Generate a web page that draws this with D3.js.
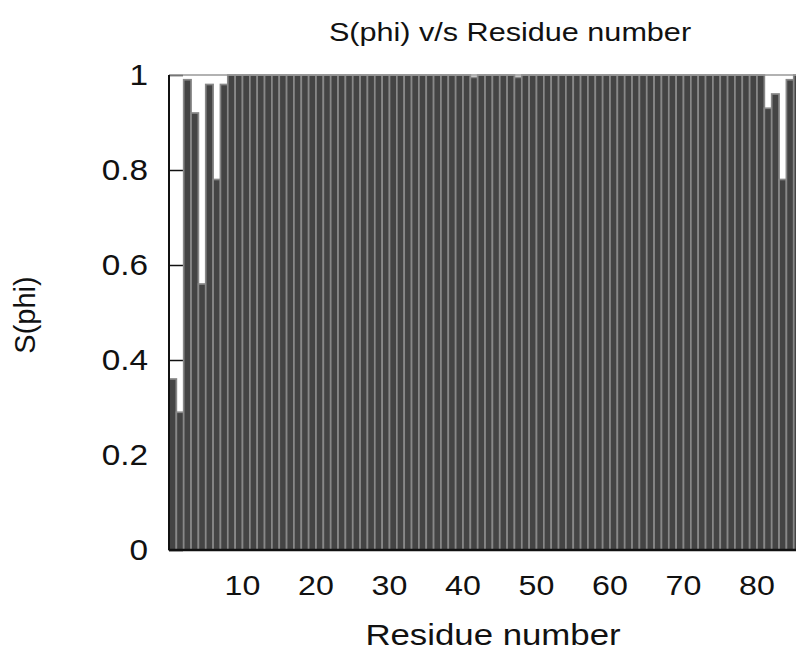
<!DOCTYPE html>
<html>
<head>
<meta charset="utf-8">
<script src="https://cdn.jsdelivr.net/npm/d3@7"></script>
<style>
  body { margin: 0; background: #fff; }
  text { font-family: "Liberation Sans", Arial, sans-serif; fill: #111; }
</style>
</head>
<body>
<svg id="canvas" width="796" height="657"></svg>
<script>
// residue numbers 1..86 and order parameter S(phi)
let residues = d3.range(1, 87)
let sphi = [
  0.36, 0.29, 0.99, 0.92, 0.56, 0.98, 0.78, 0.98, 1.00, 1.00,
  1.00, 1.00, 1.00, 1.00, 1.00, 1.00, 1.00, 1.00, 1.00, 1.00,
  1.00, 1.00, 1.00, 1.00, 1.00, 1.00, 1.00, 1.00, 1.00, 1.00,
  1.00, 1.00, 1.00, 1.00, 1.00, 1.00, 1.00, 1.00, 1.00, 1.00,
  1.00, 0.995, 1.00, 1.00, 1.00, 1.00, 1.00, 0.995, 1.00, 1.00,
  1.00, 1.00, 1.00, 1.00, 1.00, 1.00, 1.00, 1.00, 1.00, 1.00,
  1.00, 1.00, 1.00, 1.00, 1.00, 1.00, 1.00, 1.00, 1.00, 1.00,
  1.00, 1.00, 1.00, 1.00, 1.00, 1.00, 1.00, 1.00, 1.00, 1.00,
  1.00, 0.93, 0.96, 0.78, 0.99, 1.00
]
let xTicks = [10, 20, 30, 40, 50, 60, 70, 80]
let yTicks = [0, 0.2, 0.4, 0.6, 0.8, 1]

let svg = d3.select('#canvas')

let plotLeft = 169, plotTop = 75, plotBottom = 550
let xScale = d3.scaleLinear().domain([0, 86]).range([plotLeft, plotLeft + 86 * 7.35])
let yScale = d3.scaleLinear().domain([0, 1]).range([plotBottom, plotTop])

// the source picture is a bit stretched sideways, so text gets scaled too
let stretch = 1.15

// y ticks sit under the bars (only visible in the gaps)
svg.append('g')
   .attr('transform', `translate(${plotLeft},0)`)
   .call(d3.axisRight(yScale).tickValues(yTicks).tickSize(14).tickFormat(''))
   .call(g => g.select('.domain').remove())
   .call(g => g.selectAll('line').attr('stroke', '#111').attr('stroke-width', 1.5))

// bars, each one residue wide, from i-1 to i
svg.selectAll('rect.bar')
   .data(residues)
   .enter()
   .append('rect')
   .attr('class', 'bar')
   .attr('x', (d) => xScale(d - 1))
   .attr('width', (d) => xScale(d) - xScale(d - 1))
   .attr('y', (d, i) => yScale(sphi[i]))
   .attr('height', (d, i) => plotBottom - yScale(sphi[i]))
   .attr('fill', '#444')
   .attr('stroke', '#888')
   .attr('stroke-width', 1.7)

// frame
svg.append('line')
   .attr('x1', plotLeft).attr('x2', 796).attr('y1', plotTop).attr('y2', plotTop)
   .attr('stroke', '#999').attr('stroke-width', 1.5)
svg.append('line')
   .attr('x1', plotLeft).attr('x2', plotLeft).attr('y1', plotTop).attr('y2', plotBottom)
   .attr('stroke', '#111').attr('stroke-width', 2)
svg.append('line')
   .attr('x1', plotLeft).attr('x2', 796).attr('y1', plotBottom).attr('y2', plotBottom)
   .attr('stroke', '#111').attr('stroke-width', 2.5)

// tick labels
svg.selectAll('text.ylab')
   .data(yTicks)
   .enter()
   .append('text')
   .attr('class', 'ylab')
   .attr('transform', (d) => `translate(148,${yScale(d)}) scale(${stretch},1)`)
   .attr('dy', '0.36em')
   .attr('text-anchor', 'end')
   .attr('font-size', 29)
   .text((d) => d3.format('~g')(d))

svg.selectAll('text.xlab')
   .data(xTicks)
   .enter()
   .append('text')
   .attr('class', 'xlab')
   .attr('transform', (d) => `translate(${xScale(d)},595) scale(${stretch},1)`)
   .attr('text-anchor', 'middle')
   .attr('font-size', 28)
   .text((d) => d)

// titles
svg.append('text')
   .attr('transform', 'translate(510,41) scale(1.2,1)')
   .attr('text-anchor', 'middle')
   .attr('font-size', 25.5)
   .text('S(phi) v/s Residue number')

svg.append('text')
   .attr('transform', 'translate(493,645) scale(1.2,1)')
   .attr('text-anchor', 'middle')
   .attr('font-size', 29)
   .text('Residue number')

svg.append('text')
   .attr('transform', 'translate(35,315) rotate(-90)')
   .attr('text-anchor', 'middle')
   .attr('font-size', 29)
   .text('S(phi)')
</script>
</body>
</html>
